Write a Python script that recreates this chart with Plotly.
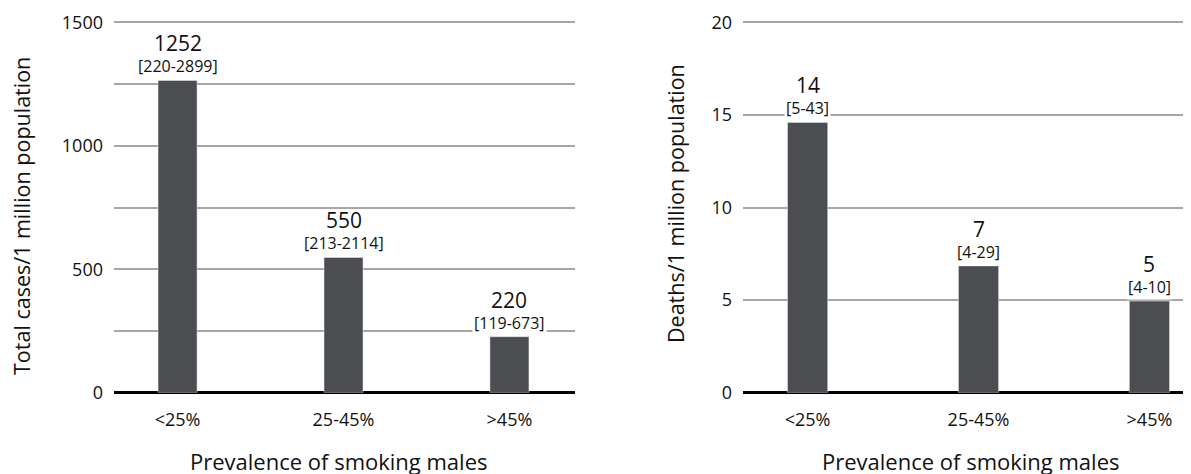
import plotly.graph_objects as go

categories = ["<25%", "25-45%", ">45%"]
cases_bar = [1265, 548, 227]
cases_label = ["1252", "550", "220"]
cases_range = ["[220-2899]", "[213-2114]", "[119-673]"]
deaths_bar = [14.6, 6.85, 4.95]
deaths_label = ["14", "7", "5"]
deaths_range = ["[5-43]", "[4-29]", "[4-10]"]

FONT = "Open Sans"
BAR = "#4b4d50"
GRID = "#a6a6a6"
TXT = "#111111"
W, H = 1191, 474
OFF = 8  # page body margin


def px(xp):
    return (xp - OFF) / W


def py(yp):
    return (H - (yp - OFF)) / H


fig = go.Figure()
fig.add_trace(go.Bar(x=[0, 1, 2], y=cases_bar, marker_color=BAR, width=0.235,
                     xaxis="x", yaxis="y", showlegend=False))
fig.add_trace(go.Bar(x=[0, 1, 2], y=deaths_bar, marker_color=BAR, width=0.235,
                     xaxis="x2", yaxis="y2", showlegend=False))

Y0, Y1 = 392.7, 22.5      # page pixel rows of axis min / nominal max
EXT = 1.008               # small headroom so the top gridline is drawn
ydom = [py(Y0), py(Y0 - (Y0 - Y1) * EXT)]
common_x = dict(tickmode="array", tickvals=[0, 1, 2], ticktext=categories,
                showgrid=False, zeroline=False, showline=False, automargin=False,
                tickfont=dict(family=FONT, size=18, color=TXT),
                ticklabelstandoff=14, fixedrange=True)
common_y = dict(showgrid=True, gridcolor=GRID, gridwidth=2, automargin=False,
                zeroline=True, zerolinecolor="black", zerolinewidth=3,
                showline=False, tickfont=dict(family=FONT, size=18, color=TXT),
                ticklabelstandoff=10, fixedrange=True)

fig.update_layout(
    width=W, height=H,
    margin=dict(l=0, r=0, t=0, b=0, autoexpand=False),
    paper_bgcolor="white", plot_bgcolor="white",
    xaxis=dict(domain=[px(114), px(575)], range=[-0.383, 2.395], anchor="y", **common_x),
    yaxis=dict(domain=ydom, range=[0, 1500 * EXT], tickvals=[0, 500, 1000, 1500], anchor="x",
               minor=dict(tickvals=[250, 750, 1250], showgrid=True, gridcolor=GRID, gridwidth=2),
               **common_y),
    xaxis2=dict(domain=[px(743), min(1.0, px(1199))], range=[-0.378, 2.29], anchor="y2", **common_x),
    yaxis2=dict(domain=ydom, range=[0, 20 * EXT], tickvals=[0, 5, 10, 15, 20], anchor="x2", **common_y),
)

ann = []
for xr, yr, vals, labs, rngs in [("x", "y", cases_bar, cases_label, cases_range),
                                  ("x2", "y2", deaths_bar, deaths_label, deaths_range)]:
    for i, v in enumerate(vals):
        ann.append(dict(x=i, y=v, xref=xr, yref=yr, text=labs[i], showarrow=False,
                        xanchor="center", yanchor="middle", yshift=37,
                        font=dict(family=FONT, size=21, color=TXT)))
        ann.append(dict(x=i, y=v, xref=xr, yref=yr, text=rngs[i], showarrow=False,
                        xanchor="center", yanchor="middle", yshift=14,
                        bgcolor="white", borderpad=1,
                        font=dict(family=FONT, size=16, color=TXT)))

ann.append(dict(x=px(21), y=py(216), xref="paper", yref="paper", xanchor="center", yanchor="middle",
                text="Total cases/1 million population", textangle=-90, showarrow=False,
                font=dict(family=FONT, size=21.5, color=TXT)))
ann.append(dict(x=px(676), y=py(204), xref="paper", yref="paper", xanchor="center", yanchor="middle",
                text="Deaths/1 million population", textangle=-90, showarrow=False,
                font=dict(family=FONT, size=21.5, color=TXT)))
ann.append(dict(x=px(338), y=py(461), xref="paper", yref="paper", xanchor="center", yanchor="middle",
                text="Prevalence of smoking males", showarrow=False,
                font=dict(family=FONT, size=22, color=TXT)))
ann.append(dict(x=px(970), y=py(461), xref="paper", yref="paper", xanchor="center", yanchor="middle",
                text="Prevalence of smoking males", showarrow=False,
                font=dict(family=FONT, size=22, color=TXT)))
fig.update_layout(annotations=ann)

fig.write_html("out.html")
